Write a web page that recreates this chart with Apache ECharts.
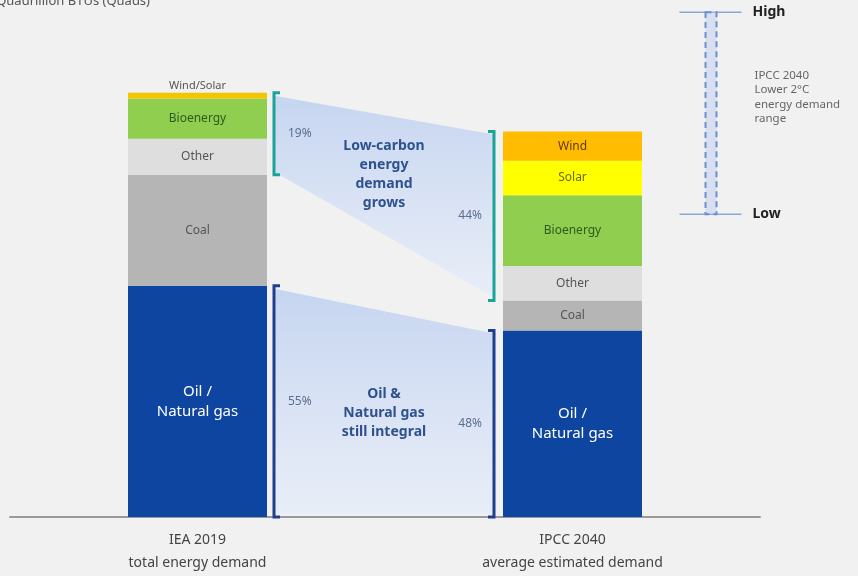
<!DOCTYPE html>
<html><head><meta charset="utf-8">
<script src="https://cdn.jsdelivr.net/npm/echarts@6/dist/echarts.min.js"></script>
<style>html,body{margin:0;padding:0;background:#f1f1f1;}#c{width:858px;height:576px;}</style>
</head><body><div id="c"></div>
<script>
// ---- data (Quads) ----
var categories = ['IEA 2019\ntotal energy demand', 'IPCC 2040\naverage estimated demand'];
var oilGas    = [316, 255];
var coal      = [152, 41];
var other     = [49, 47];
var bioenergy = [55, 97];
var windSolar = [8, 0];
var solar     = [0, 47];
var wind      = [0, 40];
var lowCarbonPct = ['19%', '44%'];
var oilGasPct    = ['55%', '48%'];
var rangeLow  = 414;
var rangeHigh = 690;

var FONT = 'Noto Sans';
var BAR_W = 139;

function sum(i, arrs){ return arrs.reduce(function(s,a){return s + a[i];}, 0); }
var tot0 = sum(0,[oilGas,coal,other,bioenergy,windSolar,solar,wind]);
var tot1 = sum(1,[oilGas,coal,other,bioenergy,windSolar,solar,wind]);
var connectors = [
  {value:[0, oilGas[0]+coal[0], tot0, oilGas[1]+coal[1], tot1], color:'#1aa39a',
   text:'Low-carbon\nenergy\ndemand\ngrows', pct: lowCarbonPct},
  {value:[0, 0, oilGas[0], 0, oilGas[1]], color:'#1c3f8f',
   text:'Oil &\nNatural gas\nstill integral', pct: oilGasPct}
];

function segLabel(color, size, txt){
  return {show:true, position:'inside', color:color, fontSize:size||12, fontFamily:FONT, lineHeight:20,
    formatter:function(p){ return p.value ? (txt || p.seriesName) : ''; }};
}
function barSeries(name, data, color, lblColor, size, txt){
  return {name:name, type:'bar', stack:'t', data:data, barWidth:BAR_W,
    itemStyle:{color:color}, label:segLabel(lblColor, size, txt), emphasis:{disabled:true}};
}

var series = [
  barSeries('Oil / Natural gas', oilGas, '#0d45a0', '#ffffff', 15, 'Oil /\nNatural gas'),
  barSeries('Coal', coal, '#b5b5b5', '#555555'),
  barSeries('Other', other, '#dedede', '#555555'),
  barSeries('Bioenergy', bioenergy, '#8fce4e', '#2f5a1d'),
  {name:'Wind/Solar', type:'bar', stack:'t', data:windSolar, barWidth:BAR_W,
   itemStyle:{color:'#f5c400'},
   label:{show:true, position:'top', distance:1, color:'#555', fontSize:11, fontFamily:FONT,
     formatter:function(p){return p.value ? p.seriesName : '';}}},
  barSeries('Solar', solar, '#ffff00', '#6a6a00'),
  barSeries('Wind', wind, '#ffbc00', '#5e3b00'),
  {
    type:'custom', data:connectors, encode:{x:0, y:[1,2,3,4]}, z:1,
    renderItem:function(params, api){
      var d = connectors[params.dataIndex];
      var a0 = api.coord([0, api.value(1)]), b0 = api.coord([0, api.value(2)]);
      var a1 = api.coord([1, api.value(3)]), b1 = api.coord([1, api.value(4)]);
      var xl = a0[0] + BAR_W/2 + 7, xr = a1[0] - BAR_W/2 - 9;
      var yl0 = a0[1], yh0 = b0[1], yl1 = a1[1], yh1 = b1[1];
      var s = 6;
      var cx = (xl + xr)/2, cy = ((yh0+yh1)/2 + (yl0+yl1)/2)/2;
      return {type:'group', children:[
        {type:'polygon', shape:{points:[[xl,yh0+3],[xr,yh1+3],[xr,yl1-3],[xl,yl0-3]]},
          style:{fill:new echarts.graphic.LinearGradient(0,0,0,1,[
            {offset:0,color:'rgba(190,208,240,0.85)'},{offset:1,color:'rgba(228,236,250,0.7)'}])}},
        {type:'polyline', shape:{points:[[xl+s,yh0],[xl,yh0],[xl,yl0],[xl+s,yl0]]},
          style:{stroke:d.color, lineWidth:3, fill:null}},
        {type:'polyline', shape:{points:[[xr-s,yh1],[xr,yh1],[xr,yl1],[xr-s,yl1]]},
          style:{stroke:d.color, lineWidth:3, fill:null}},
        {type:'text', style:{text:d.text, x:cx, y:cy, align:'center', verticalAlign:'middle',
          fill:'#2f528f', fontSize:14, fontWeight:'bold', fontFamily:FONT, lineHeight:19}},
        {type:'text', style:{text:d.pct[0], x:xl+14, y:(yh0+yl0)/2, align:'left', verticalAlign:'middle',
          fill:'#5b6e8f', fontSize:12, fontFamily:FONT}},
        {type:'text', style:{text:d.pct[1], x:xr-12, y:(yh1+yl1)/2, align:'right', verticalAlign:'middle',
          fill:'#5b6e8f', fontSize:12, fontFamily:FONT}}
      ]};
    }
  },
  {
    type:'custom', data:[[1, rangeLow, rangeHigh]], encode:{x:0, y:[1,2]}, z:1,
    renderItem:function(params, api){
      var lo = api.coord([1, api.value(1)]), hi = api.coord([1, api.value(2)]);
      var x = lo[0] + 138;
      return {type:'group', children:[
        {type:'line', shape:{x1:x-31, y1:hi[1], x2:x+31, y2:hi[1]}, style:{stroke:'#8ea8d2', lineWidth:1.5}},
        {type:'line', shape:{x1:x-31, y1:lo[1], x2:x+31, y2:lo[1]}, style:{stroke:'#8ea8d2', lineWidth:1.5}},
        {type:'rect', shape:{x:x-5, y:hi[1], width:11, height:lo[1]-hi[1]},
          style:{fill:'rgba(190,205,240,0.5)', stroke:'#6b8fd2', lineWidth:2, lineDash:[6,4]}},
        {type:'text', style:{text:'High', x:x+42, y:hi[1], verticalAlign:'middle', fill:'#222',
          fontSize:14, fontWeight:'bold', fontFamily:FONT}},
        {type:'text', style:{text:'Low', x:x+42, y:lo[1], verticalAlign:'middle', fill:'#222',
          fontSize:14, fontWeight:'bold', fontFamily:FONT}},
        {type:'text', style:{text:'IPCC 2040\nLower 2°C\nenergy demand\nrange', x:x+44, y:(hi[1]+lo[1])/2 - 16,
          verticalAlign:'middle', fill:'#666', fontSize:11.5, fontFamily:FONT, lineHeight:14.5}}
      ]};
    }
  }
];

var chart = echarts.init(document.getElementById('c'));
chart.setOption({
  backgroundColor:'#f1f1f1',
  animation:false,
  grid:{left:10, right:98, top:5, bottom:59},
  xAxis:{type:'category', data:categories,
    axisLine:{lineStyle:{color:'#9a9a9a', width:2}}, axisTick:{show:false},
    axisLabel:{color:'#444', fontSize:14, fontFamily:FONT, lineHeight:23, margin:12}},
  yAxis:{type:'value', min:0, max:700, show:false, splitLine:{show:false}},
  graphic:[{type:'text', right:708, top:-5, style:{text:'Quadrillion BTUs (Quads)', fill:'#555', fontSize:13, fontFamily:FONT}}],
  series:series
});
</script></body></html>
